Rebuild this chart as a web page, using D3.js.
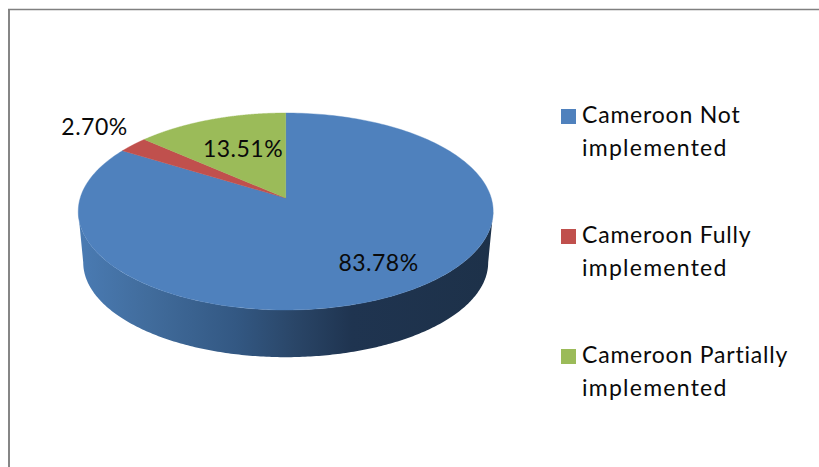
<!DOCTYPE html>
<html><head><meta charset="utf-8">
<script src="https://cdn.jsdelivr.net/npm/d3@7"></script>
<style>html,body{margin:0;padding:0;background:#fff;overflow:hidden}svg{display:block}text{font-family:Lato,"Noto Sans",sans-serif;fill:#0a0a0a}</style>
</head><body><svg id="c" width="819" height="467"></svg>
<script>
const categories = ["Cameroon Not implemented","Cameroon Fully implemented","Cameroon Partially implemented"];
const values = [83.78,2.70,13.51];
const valueLabels = ["83.78%","2.70%","13.51%"];
const colors = ["#4f81bd","#c0504d","#9bbb59"];
const legendLines = [["Cameroon Not","implemented"],["Cameroon Fully","implemented"],["Cameroon Partially","implemented"]];

const svg = d3.select("#c");
const cx=285.7, apexY=198, k=0.137, b=96.65, a=205.5;
const proj = t => { const u=Math.sin(t), v=Math.cos(t), d=1+k*v; return [cx+a*u/d, apexY-b*v/d]; };
const projBase = t => { const p=proj(t); const f=0.976; return [cx+(p[0]-cx)*f, apexY+(p[1]-apexY)*f*0.985+51.5]; };
const line = d3.line();
const arcs = d3.pie().sort(null)(values);
const N=240;
const samples=(s,e,fn)=>d3.range(N+1).map(i=>fn(s+(e-s)*i/N));

const defs=svg.append("defs");
const g=defs.append("linearGradient").attr("id","side").attr("gradientUnits","userSpaceOnUse")
  .attr("x1",78).attr("x2",493).attr("y1",0).attr("y2",0);
[[0,"#4a7bb3"],[0.17,"#416c9c"],[0.38,"#335883"],[0.52,"#2a4668"],[0.66,"#1f3450"],[1,"#1d3149"]]
 .forEach(s=>g.append("stop").attr("offset",s[0]).attr("stop-color",s[1]));

// frame
svg.append("path").attr("d","M9,467V9").attr("fill","none").attr("stroke","#868686").attr("stroke-width",2);
svg.append("path").attr("d","M8,9.5H819").attr("fill","none").attr("stroke","#808080").attr("stroke-width",1.3);

// side wall
const t1=Math.PI/2+0.137, t2=Math.PI*1.5-0.137;
svg.append("path").attr("fill","url(#side)")
  .attr("d",line(samples(t1,t2,proj).concat(samples(t2,t1,projBase)))+"Z");

// top slices
svg.append("g").selectAll("path").data(arcs).join("path")
  .attr("fill",(d,i)=>colors[i])
  .attr("stroke",(d,i)=>colors[i]).attr("stroke-width",0.4)
  .attr("d",d=>line([[cx,apexY]].concat(samples(d.startAngle,d.endAngle,proj)))+"Z");

// value labels
const labelPos=[[378.5,271],[94.5,135],[243,157]];
svg.append("g").selectAll("text").data(valueLabels).join("text")
  .attr("x",(d,i)=>labelPos[i][0]).attr("y",(d,i)=>labelPos[i][1])
  .attr("text-anchor","middle").style("font-size","23px").style("letter-spacing","0.5px").text(d=>d);

// legend
const legY=[109,229,349];
const lg=svg.append("g").selectAll("g").data(categories).join("g");
lg.append("rect").attr("x",561).attr("y",(d,i)=>legY[i]).attr("width",15).attr("height",15).attr("fill",(d,i)=>colors[i]);
lg.each(function(d,i){
  d3.select(this).selectAll("text").data(legendLines[i]).join("text")
   .attr("x",582).attr("y",(l,j)=>legY[i]+14+j*32.5).style("font-size","23px")
   .style("letter-spacing",(l,j)=>j?"1.25px":"0.8px").text(l=>l);
});
</script></body></html>
